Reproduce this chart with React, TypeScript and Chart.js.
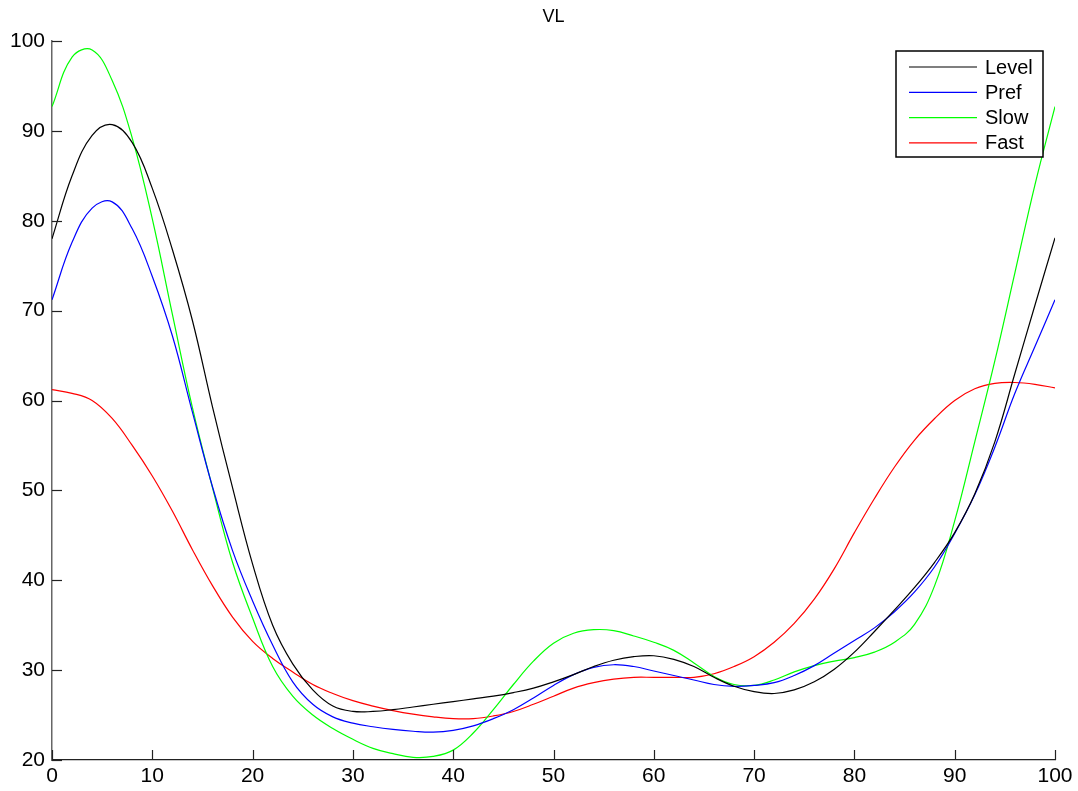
import React, { useEffect, useRef } from "react";
import { Chart, registerables } from "chart.js";

Chart.register(...registerables);

const xValues = [0, 2, 4, 6, 8, 10, 12, 14, 16, 18, 20, 22, 24, 26, 28, 30, 32, 34, 36, 38, 40, 42, 44, 46, 48, 50, 52, 54, 56, 58, 60, 62, 64, 66, 68, 70, 72, 74, 76, 78, 80, 82, 84, 86, 88, 90, 92, 94, 96, 98, 100];

const levelValues = [78.0, 85.0, 89.5, 90.7, 88.7, 83.6, 76.8, 68.9, 59.3, 50.3, 41.8, 35.0, 30.7, 27.8, 26.0, 25.4, 25.4, 25.6, 25.9, 26.2, 26.5, 26.8, 27.1, 27.5, 28.0, 28.7, 29.5, 30.4, 31.1, 31.5, 31.6, 31.2, 30.4, 29.2, 28.2, 27.6, 27.4, 27.8, 28.7, 30.1, 32.0, 34.3, 36.7, 39.2, 42.0, 45.3, 49.6, 55.4, 63.0, 70.6, 78.1];

const prefValues = [71.2, 77.6, 81.4, 82.1, 79.1, 73.8, 67.2, 58.7, 50.4, 43.3, 37.7, 32.8, 28.7, 26.2, 24.8, 24.1, 23.7, 23.4, 23.2, 23.1, 23.3, 23.8, 24.6, 25.6, 26.9, 28.3, 29.5, 30.3, 30.6, 30.4, 29.9, 29.4, 28.9, 28.4, 28.2, 28.3, 28.6, 29.4, 30.5, 31.9, 33.3, 34.7, 36.5, 38.7, 41.5, 45.2, 49.5, 54.8, 60.8, 66.0, 71.2];

const slowValues = [92.7, 98.2, 99.0, 95.6, 89.2, 80.2, 69.6, 59.2, 50.3, 42.0, 35.8, 30.4, 27.1, 25.0, 23.5, 22.3, 21.3, 20.7, 20.3, 20.4, 21.1, 23.0, 25.6, 28.4, 31.0, 33.0, 34.1, 34.5, 34.4, 33.8, 33.1, 32.2, 30.8, 29.3, 28.4, 28.3, 28.9, 29.8, 30.5, 31.0, 31.4, 32.0, 33.1, 35.1, 39.4, 46.6, 55.4, 64.4, 74.2, 84.0, 92.7];

const fastValues = [61.2, 60.8, 60.0, 58.0, 55.0, 51.6, 47.7, 43.4, 39.4, 35.9, 33.2, 31.3, 29.8, 28.4, 27.4, 26.6, 26.0, 25.5, 25.1, 24.8, 24.6, 24.6, 24.9, 25.4, 26.2, 27.1, 28.0, 28.6, 29.0, 29.2, 29.2, 29.2, 29.2, 29.6, 30.4, 31.5, 33.1, 35.2, 37.9, 41.3, 45.3, 49.1, 52.6, 55.6, 58.0, 60.0, 61.3, 61.9, 62.0, 61.8, 61.4];

const seriesNames = ["Level", "Pref", "Slow", "Fast"];
const seriesColors = ["#000000", "#0000ff", "#00ff00", "#ff0000"];
const seriesValues = [levelValues, prefValues, slowValues, fastValues];

const xTicks = [0, 10, 20, 30, 40, 50, 60, 70, 80, 90, 100];
const yTicks = [20, 30, 40, 50, 60, 70, 80, 90, 100];
const titleText = "VL";

const FONT = "'Liberation Sans', Arial, Helvetica, sans-serif";

const matlabPlugin = {
  id: "matlabDecor",
  afterDatasetsDraw(chart: any) {
    const ctx = chart.ctx;
    const xs = chart.scales.x;
    const ys = chart.scales.y;
    const area = chart.chartArea;
    ctx.save();
    ctx.strokeStyle = "#222";
    ctx.lineWidth = 1.2;
    xTicks.forEach((t) => {
      const px = Math.round(xs.getPixelForValue(t)) + 0.5;
      ctx.beginPath();
      ctx.moveTo(px, area.bottom);
      ctx.lineTo(px, area.bottom - 10);
      ctx.stroke();
    });
    yTicks.forEach((t) => {
      const py = Math.round(ys.getPixelForValue(t)) + 0.5;
      ctx.beginPath();
      ctx.moveTo(area.left, py);
      ctx.lineTo(area.left + 10, py);
      ctx.stroke();
    });
    ctx.fillStyle = "#000";
    ctx.font = `18px ${FONT}`;
    ctx.textAlign = "center";
    ctx.textBaseline = "middle";
    ctx.fillText(titleText, (area.left + area.right) / 2, 17);
    const bx = 896, by = 51, bw = 147, bh = 106;
    ctx.fillStyle = "#fff";
    ctx.fillRect(bx, by, bw, bh);
    ctx.strokeStyle = "#000";
    ctx.lineWidth = 1.5;
    ctx.strokeRect(bx, by, bw, bh);
    ctx.font = `20px ${FONT}`;
    ctx.textAlign = "left";
    ctx.textBaseline = "middle";
    seriesNames.forEach((name, i) => {
      const y = 67 + i * 25.3;
      ctx.strokeStyle = seriesColors[i];
      ctx.lineWidth = 1.2;
      ctx.beginPath();
      ctx.moveTo(909, y);
      ctx.lineTo(977, y);
      ctx.stroke();
      ctx.fillStyle = "#000";
      ctx.fillText(name, 985, y + 1);
    });
    ctx.restore();
  },
};

export default function App() {
  const canvasRef = useRef<HTMLCanvasElement | null>(null);

  useEffect(() => {
    if (!canvasRef.current) return;
    const chart = new Chart(canvasRef.current, {
      type: "line",
      data: {
        datasets: seriesNames.map((name, i) => ({
          label: name,
          data: xValues.map((x, j) => ({ x, y: seriesValues[i][j] })),
          borderColor: seriesColors[i],
          backgroundColor: seriesColors[i],
          borderWidth: 1.2,
          pointRadius: 0,
          fill: false,
          tension: 0.4,
        })),
      },
      options: {
        animation: false,
        responsive: false,
        maintainAspectRatio: false,
        layout: { padding: { top: 41, right: 23, left: 0, bottom: 0 } },
        plugins: {
          legend: { display: false },
          title: { display: false },
          tooltip: { enabled: false },
        },
        scales: {
          x: {
            type: "linear",
            min: 0,
            max: 100,
            afterFit: (s: any) => {
              s.height = 31;
            },
            afterBuildTicks: (s: any) => {
              s.ticks = xTicks.map((v) => ({ value: v }));
            },
            grid: { display: false, drawTicks: false },
            border: { display: true, color: "#222", width: 1.3 },
            ticks: {
              padding: 4,
              color: "#000",
              font: { family: FONT, size: 21 },
              maxRotation: 0,
              autoSkip: false,
            },
          },
          y: {
            type: "linear",
            min: 20,
            max: 100,
            afterFit: (s: any) => {
              s.width = 52;
            },
            afterBuildTicks: (s: any) => {
              s.ticks = yTicks.map((v) => ({ value: v }));
            },
            grid: { display: false, drawTicks: false },
            border: { display: true, color: "#666", width: 1.5 },
            ticks: {
              padding: 7,
              color: "#000",
              font: { family: FONT, size: 21 },
              autoSkip: false,
            },
          },
        },
      },
      plugins: [matlabPlugin],
    });
    return () => chart.destroy();
  }, []);

  return (
    <div style={{ position: "fixed", left: 0, top: 0, width: 1078, height: 791, background: "#fff" }}>
      <canvas ref={canvasRef} width={1078} height={791} style={{ width: 1078, height: 791, display: "block" }} />
    </div>
  );
}
